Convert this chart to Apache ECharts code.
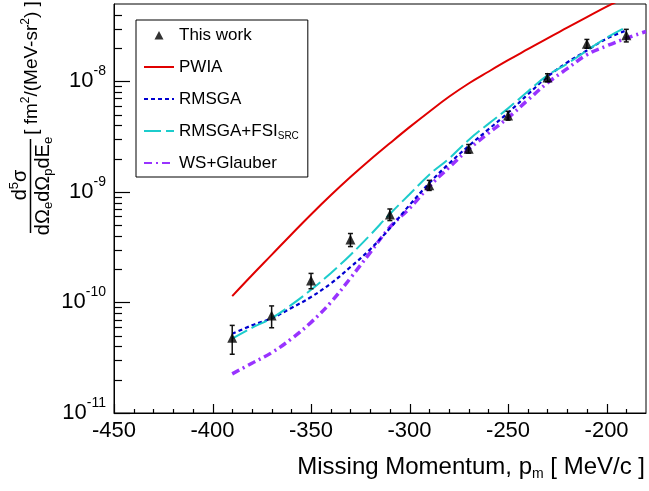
<!DOCTYPE html>
<html>
<head>
<meta charset="UTF-8">
<title>Missing momentum cross section</title>
<style>
  * { margin: 0; padding: 0; }
  html, body { background: #fff; }
  #main { width: 649px; height: 491px; }
</style>
<script src="https://cdn.jsdelivr.net/npm/echarts@6/dist/echarts.min.js"></script>
</head>
<body>
<div id="main"></div>
<script>
var FONT = '"Liberation Sans", Arial, Helvetica, sans-serif';

// measured points (This work)
var pm = [-390, -370, -350, -330, -310, -290, -270, -250, -230, -210, -190];
var xsec = [4.8e-11, 7.6e-11, 1.58e-10, 3.7e-10, 6.25e-10, 1.15e-9, 2.46e-9, 4.9e-9, 1.08e-8, 2.19e-8, 2.61e-8];
var xsecErr = [1.4e-11, 1.7e-11, 2.5e-11, 5.0e-11, 7.5e-11, 1.2e-10, 2.2e-10, 4.5e-10, 9.0e-10, 2.0e-9, 3.4e-9];

// theory curves
var pmTheory = [-390, -380, -370, -360, -350, -340, -330, -320, -310, -300, -290, -280, -270, -260, -250, -240, -230, -220, -210, -200, -190, -180];
var pwia = [1.14e-10, 1.76e-10, 2.69e-10, 4.12e-10, 6.24e-10, 9.3e-10, 1.36e-9, 1.95e-9, 2.75e-9, 3.85e-9, 5.31e-9, 7.24e-9, 9.55e-9, 1.22e-8, 1.55e-8, 1.95e-8, 2.45e-8, 3.05e-8, 3.80e-8, 4.73e-8, 5.8e-8, 7.1e-8];
var rmsga = [5.2e-11, 6.2e-11, 7.2e-11, 8.9e-11, 1.12e-10, 1.48e-10, 2.09e-10, 3.02e-10, 4.68e-10, 7.6e-10, 1.20e-9, 1.80e-9, 2.60e-9, 3.67e-9, 5.19e-9, 7.6e-9, 1.10e-8, 1.48e-8, 1.90e-8, 2.43e-8, 2.88e-8, null];
var rmsgaFsi = [4.7e-11, 5.9e-11, 7.2e-11, 9.5e-11, 1.30e-10, 1.84e-10, 2.69e-10, 4.07e-10, 6.31e-10, 9.5e-10, 1.43e-9, 2.0e-9, 2.95e-9, 4.12e-9, 5.69e-9, 8.1e-9, 1.13e-8, 1.44e-8, 1.90e-8, 2.48e-8, 3.09e-8, null];
var wsGlauber = [2.26e-11, 2.82e-11, 3.51e-11, 4.68e-11, 6.6e-11, 1.0e-10, 1.66e-10, 2.82e-10, 4.79e-10, 7.1e-10, 1.12e-9, 1.66e-9, 2.43e-9, 3.39e-9, 4.68e-9, 6.76e-9, 9.66e-9, 1.30e-8, 1.74e-8, 2.09e-8, 2.45e-8, 2.82e-8];

// axis ranges and ticks
var xMin = -450, xMax = -180;
var yMin = 1e-11, yMax = 5e-8;
var xMajorTicks = [-450, -400, -350, -300, -250, -200];
var xMinorTicks = [-440, -430, -420, -410, -390, -380, -370, -360, -340, -330, -320, -310, -290, -280, -270, -260, -240, -230, -220, -210, -190];
var yDecades = [1e-11, 1e-10, 1e-9, 1e-8];
var yMinorSteps = [2, 3, 4, 5, 6, 7, 8, 9];

function zip(xs, ys) {
  var out = [];
  for (var i = 0; i < xs.length; i++) out.push([xs[i], ys[i]]);
  return out;
}

var errData = pm.map(function (x, i) {
  return [x, xsec[i], xsec[i] - xsecErr[i], xsec[i] + xsecErr[i]];
});

// small triangle icon for the legend, padded to the 30x10 icon box
var triIcon = 'path://M0,0L0.01,0L0,0.01Z M30,10L29.99,10L30,9.99Z M10.5,9.5L15,1L19.5,9.5Z';
var lineLegend = function (name) { return { name: name, itemStyle: { opacity: 0 } }; };

var myChart = echarts.init(document.getElementById('main'), null, { renderer: 'canvas' });
var option = {
  animation: false,
  backgroundColor: '#fff',
  textStyle: { fontFamily: FONT },
  grid: {
    left: 114, top: 4, right: 0, bottom: 78,
    show: true, borderColor: '#000', borderWidth: 1
  },
  legend: {
    orient: 'vertical',
    left: 136, top: 20,
    selectedMode: false,
    data: [
      { name: 'This work', icon: triIcon },
      lineLegend('PWIA'),
      lineLegend('RMSGA'),
      lineLegend('RMSGA+FSI_SRC'),
      lineLegend('WS+Glauber')
    ],
    itemWidth: 30, itemHeight: 10, itemGap: 12,
    padding: [5, 9, 4, 7],
    borderColor: '#000', borderWidth: 1,
    formatter: function (name) {
      return name.replace('_SRC', '{sub|SRC}');
    },
    textStyle: {
      fontFamily: FONT, fontSize: 17, color: '#000', lineHeight: 20,
      rich: { sub: { fontFamily: FONT, fontSize: 10, lineHeight: 4, verticalAlign: 'bottom', color: '#000' } }
    }
  },
  xAxis: {
    type: 'value', min: xMin, max: xMax, interval: 50,
    axisLine: { lineStyle: { color: '#000', width: 1 } },
    axisTick: { show: false },
    splitLine: { show: false },
    axisLabel: {
      color: '#000', fontFamily: FONT, fontSize: 22, margin: 7,
      formatter: function (v) { return v % 50 !== 0 ? '' : String(v); }
    }
  },
  yAxis: {
    type: 'log', logBase: 10, min: yMin, max: yMax,
    axisLine: { show: true, lineStyle: { color: '#000', width: 1 } },
    axisTick: { show: false },
    splitLine: { show: false },
    axisLabel: {
      margin: 8,
      formatter: function (v) {
        var e = Math.log10(v);
        if (Math.abs(e - Math.round(e)) > 1e-6) return '';
        return '{b|10}{s|' + Math.round(e) + '}';
      },
      rich: {
        b: { fontFamily: FONT, fontSize: 22, color: '#000', lineHeight: 34 },
        s: { fontFamily: FONT, fontSize: 14, color: '#000', lineHeight: 12, verticalAlign: 'top' }
      }
    }
  },
  series: [
    {
      name: 'PWIA', type: 'line', data: zip(pmTheory, pwia),
      symbol: 'none', smooth: 0.4, clip: true,
      lineStyle: { color: '#e00000', width: 2 }, itemStyle: { color: '#e00000' }
    },
    {
      name: 'WS+Glauber', type: 'line', data: zip(pmTheory, wsGlauber),
      symbol: 'none', smooth: 0.4, clip: true,
      lineStyle: { color: '#9933ff', width: 3.5, type: [8, 4, 2, 4] }, itemStyle: { color: '#9933ff' }
    },
    {
      name: 'RMSGA', type: 'line', data: zip(pmTheory, rmsga),
      symbol: 'none', smooth: 0.4, clip: true,
      lineStyle: { color: '#0000d0', width: 2.2, type: [4, 3] }, itemStyle: { color: '#0000d0' }
    },
    {
      name: 'RMSGA+FSI_SRC', type: 'line', data: zip(pmTheory, rmsgaFsi),
      symbol: 'none', smooth: 0.4, clip: true,
      lineStyle: { color: '#1ccccc', width: 2, type: [17, 5] }, itemStyle: { color: '#1ccccc' }
    },
    {
      name: 'errors', type: 'custom', data: errData,
      encode: { x: 0, y: 1 }, z: 4,
      renderItem: function (params, api) {
        var x = api.value(0);
        var a = api.coord([x, api.value(3)]);
        var b = api.coord([x, api.value(2)]);
        var c = 2.5;
        var st = { stroke: '#111', lineWidth: 1.5 };
        return {
          type: 'group', children: [
            { type: 'line', shape: { x1: a[0], y1: a[1], x2: b[0], y2: b[1] }, style: st },
            { type: 'line', shape: { x1: a[0] - c, y1: a[1], x2: a[0] + c, y2: a[1] }, style: st },
            { type: 'line', shape: { x1: b[0] - c, y1: b[1], x2: b[0] + c, y2: b[1] }, style: st }
          ]
        };
      }
    },
    {
      name: 'This work', type: 'scatter', data: zip(pm, xsec),
      symbol: 'triangle', symbolSize: 10, z: 5,
      itemStyle: { color: '#000' }
    }
  ],
  graphic: [
    {
      type: 'text', x: 645, y: 467, silent: true,
      style: {
        text: 'Missing Momentum, p{sub|m} [ MeV/c ]',
        fontFamily: FONT, fontSize: 24, lineHeight: 28, fill: '#000',
        align: 'right', verticalAlign: 'middle',
        rich: { sub: { fontFamily: FONT, fontSize: 14, lineHeight: 6, verticalAlign: 'bottom', fill: '#000' } }
      }
    },
    {
      type: 'text', x: 20, y: 185, rotation: Math.PI / 2, silent: true,
      style: {
        text: 'd{sup|5}σ',
        fontFamily: FONT, fontSize: 20, lineHeight: 24, fill: '#000',
        align: 'center', verticalAlign: 'middle',
        rich: { sup: { fontFamily: FONT, fontSize: 13, lineHeight: 6, verticalAlign: 'top', fill: '#000' } }
      }
    },
    {
      type: 'line', silent: true,
      shape: { x1: 30.5, y1: 139, x2: 30.5, y2: 233 },
      style: { stroke: '#000', lineWidth: 1.5 }
    },
    {
      type: 'text', x: 43, y: 186, rotation: Math.PI / 2, silent: true,
      style: {
        text: 'dΩ{sub|e}dΩ{sub|p}dE{sub|e}',
        fontFamily: FONT, fontSize: 20, lineHeight: 24, fill: '#000',
        align: 'center', verticalAlign: 'middle',
        rich: { sub: { fontFamily: FONT, fontSize: 13, lineHeight: 8, verticalAlign: 'bottom', fill: '#000' } }
      }
    },
    {
      type: 'text', x: 32, y: 68, rotation: Math.PI / 2, silent: true,
      style: {
        text: '[ fm{sup|2}/(MeV-sr{sup|2}) ]',
        fontFamily: FONT, fontSize: 19, lineHeight: 24, fill: '#000',
        align: 'center', verticalAlign: 'middle',
        rich: { sup: { fontFamily: FONT, fontSize: 12, lineHeight: 6, verticalAlign: 'top', fill: '#000' } }
      }
    }
  ]
};
myChart.setOption(option);

// tick marks placed through the chart's own axis scales (ticks point inside the frame)
var ticks = [];
function tickLine(x1, y1, x2, y2) {
  return {
    type: 'line', silent: true,
    shape: { x1: x1, y1: y1, x2: x2, y2: y2 },
    style: { stroke: '#000', lineWidth: 1.2 }
  };
}
function addXTick(v, len) {
  var p = myChart.convertToPixel({ gridIndex: 0 }, [v, yMin]);
  var x = Math.round(p[0]) + 0.5;
  ticks.push(tickLine(x, p[1], x, p[1] - len));
}
function addYTick(v, len) {
  var p = myChart.convertToPixel({ gridIndex: 0 }, [xMin, v]);
  var y = Math.round(p[1]) + 0.5;
  ticks.push(tickLine(p[0], y, p[0] + len, y));
}
xMajorTicks.forEach(function (v) { addXTick(v, 9); });
xMinorTicks.forEach(function (v) { addXTick(v, 4); });
yDecades.forEach(function (d) {
  addYTick(d, 16);
  yMinorSteps.forEach(function (m) {
    if (d * m < yMax) addYTick(d * m, 8);
  });
});
myChart.setOption({ graphic: option.graphic.concat(ticks) });
</script>
</body>
</html>
